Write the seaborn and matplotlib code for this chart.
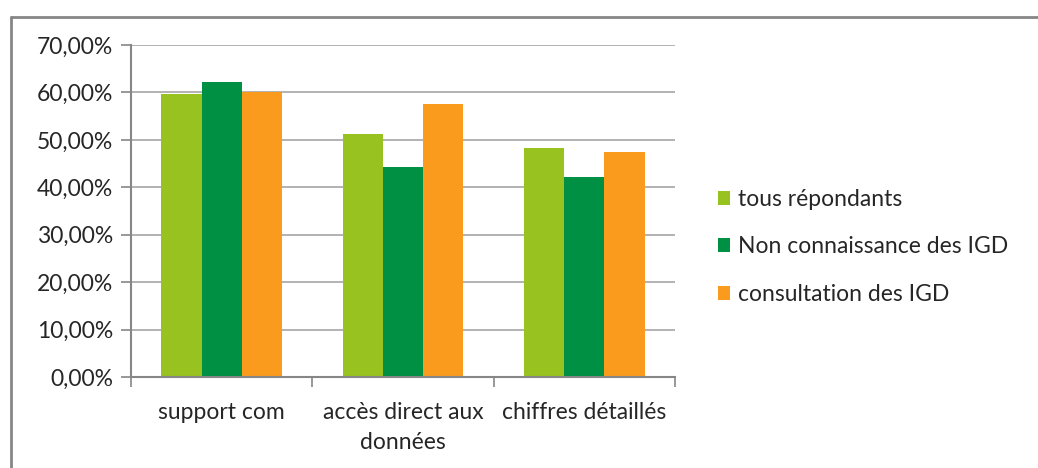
import matplotlib
matplotlib.use("Agg")
import matplotlib.pyplot as plt
import seaborn as sns
import pandas as pd
from matplotlib.ticker import FuncFormatter, FixedLocator
from matplotlib.lines import Line2D

# Data
categories = ["support com", "accès direct aux\ndonnées", "chiffres détaillés"]
series = ["tous répondants", "Non connaissance des IGD", "consultation des IGD"]
tous = [59.7, 51.2, 48.3]
non_connaissance = [62.1, 44.2, 42.1]
consultation = [60.0, 57.5, 47.4]
colors = ["#98C21F", "#009044", "#FA9B1E"]

df = pd.DataFrame({
    "categorie": categories * 3,
    "serie": [series[0]] * 3 + [series[1]] * 3 + [series[2]] * 3,
    "valeur": tous + non_connaissance + consultation,
})

sns.set_style("white")
plt.rcParams["font.family"] = ["Lato", "DejaVu Sans"]

fs = 16.5
txt = "#262626"
fig = plt.figure(figsize=(10.38, 4.68), dpi=100)
ax = fig.add_axes([131 / 1038, 1 - 377 / 468, (675 - 131) / 1038, (377 - 45) / 468])

sns.barplot(data=df, x="categorie", y="valeur", hue="serie",
            palette=colors, width=0.665, saturation=1, ax=ax,
            linewidth=0, legend=True)

grey = "#868686"
ax.set_ylim(0, 70)
ax.set_xlim(-0.5, 2.5)
ax.yaxis.set_major_locator(FixedLocator(range(0, 71, 10)))
ax.yaxis.set_major_formatter(FuncFormatter(lambda v, p: f"{v:.2f}%".replace(".", ",")))
ax.grid(axis="y", color="#A6A6A6", linewidth=1.2)
ax.set_axisbelow(True)

# category boundaries as ticks, labels centred on minor ticks
ax.xaxis.set_major_locator(FixedLocator([-0.5, 0.5, 1.5, 2.5]))
ax.xaxis.set_minor_locator(FixedLocator([0, 1, 2]))
ax.set_xticklabels([], minor=False)
ax.set_xticklabels(categories, minor=True)
ax.tick_params(axis="x", which="major", length=7, color=grey, width=1.2, direction="out", bottom=True)
ax.tick_params(axis="x", which="minor", length=0, pad=18, labelsize=fs, labelcolor=txt)
ax.tick_params(axis="y", length=7, color=grey, width=1.2, direction="out", left=True,
               labelsize=fs, labelcolor=txt, pad=6)
for lbl in ax.get_xticklabels(minor=True):
    lbl.set_linespacing(1.55)

for side in ["top", "right"]:
    ax.spines[side].set_visible(False)
for side in ["left", "bottom"]:
    ax.spines[side].set_color(grey)
    ax.spines[side].set_linewidth(1.5)

ax.set_xlabel("")
ax.set_ylabel("")

handles, labels = ax.get_legend_handles_labels()
ax.legend(handles, labels, loc="center left", bbox_to_anchor=(697 / 1038, 1 - 247 / 468),
          bbox_transform=fig.transFigure, frameon=False, fontsize=fs,
          handlelength=0.55, handleheight=0.55, handletextpad=0.35, labelspacing=1.15,
          labelcolor=txt)

# outer chart frame (left and top only visible)
fig.add_artist(Line2D([10.5 / 1038, 10.5 / 1038], [0, 1 - 16.5 / 468], color=grey, linewidth=2,
                      transform=fig.transFigure))
fig.add_artist(Line2D([10.5 / 1038, 1], [1 - 16.5 / 468, 1 - 16.5 / 468], color=grey, linewidth=2,
                      transform=fig.transFigure))

fig.savefig("out.png", dpi=100)
